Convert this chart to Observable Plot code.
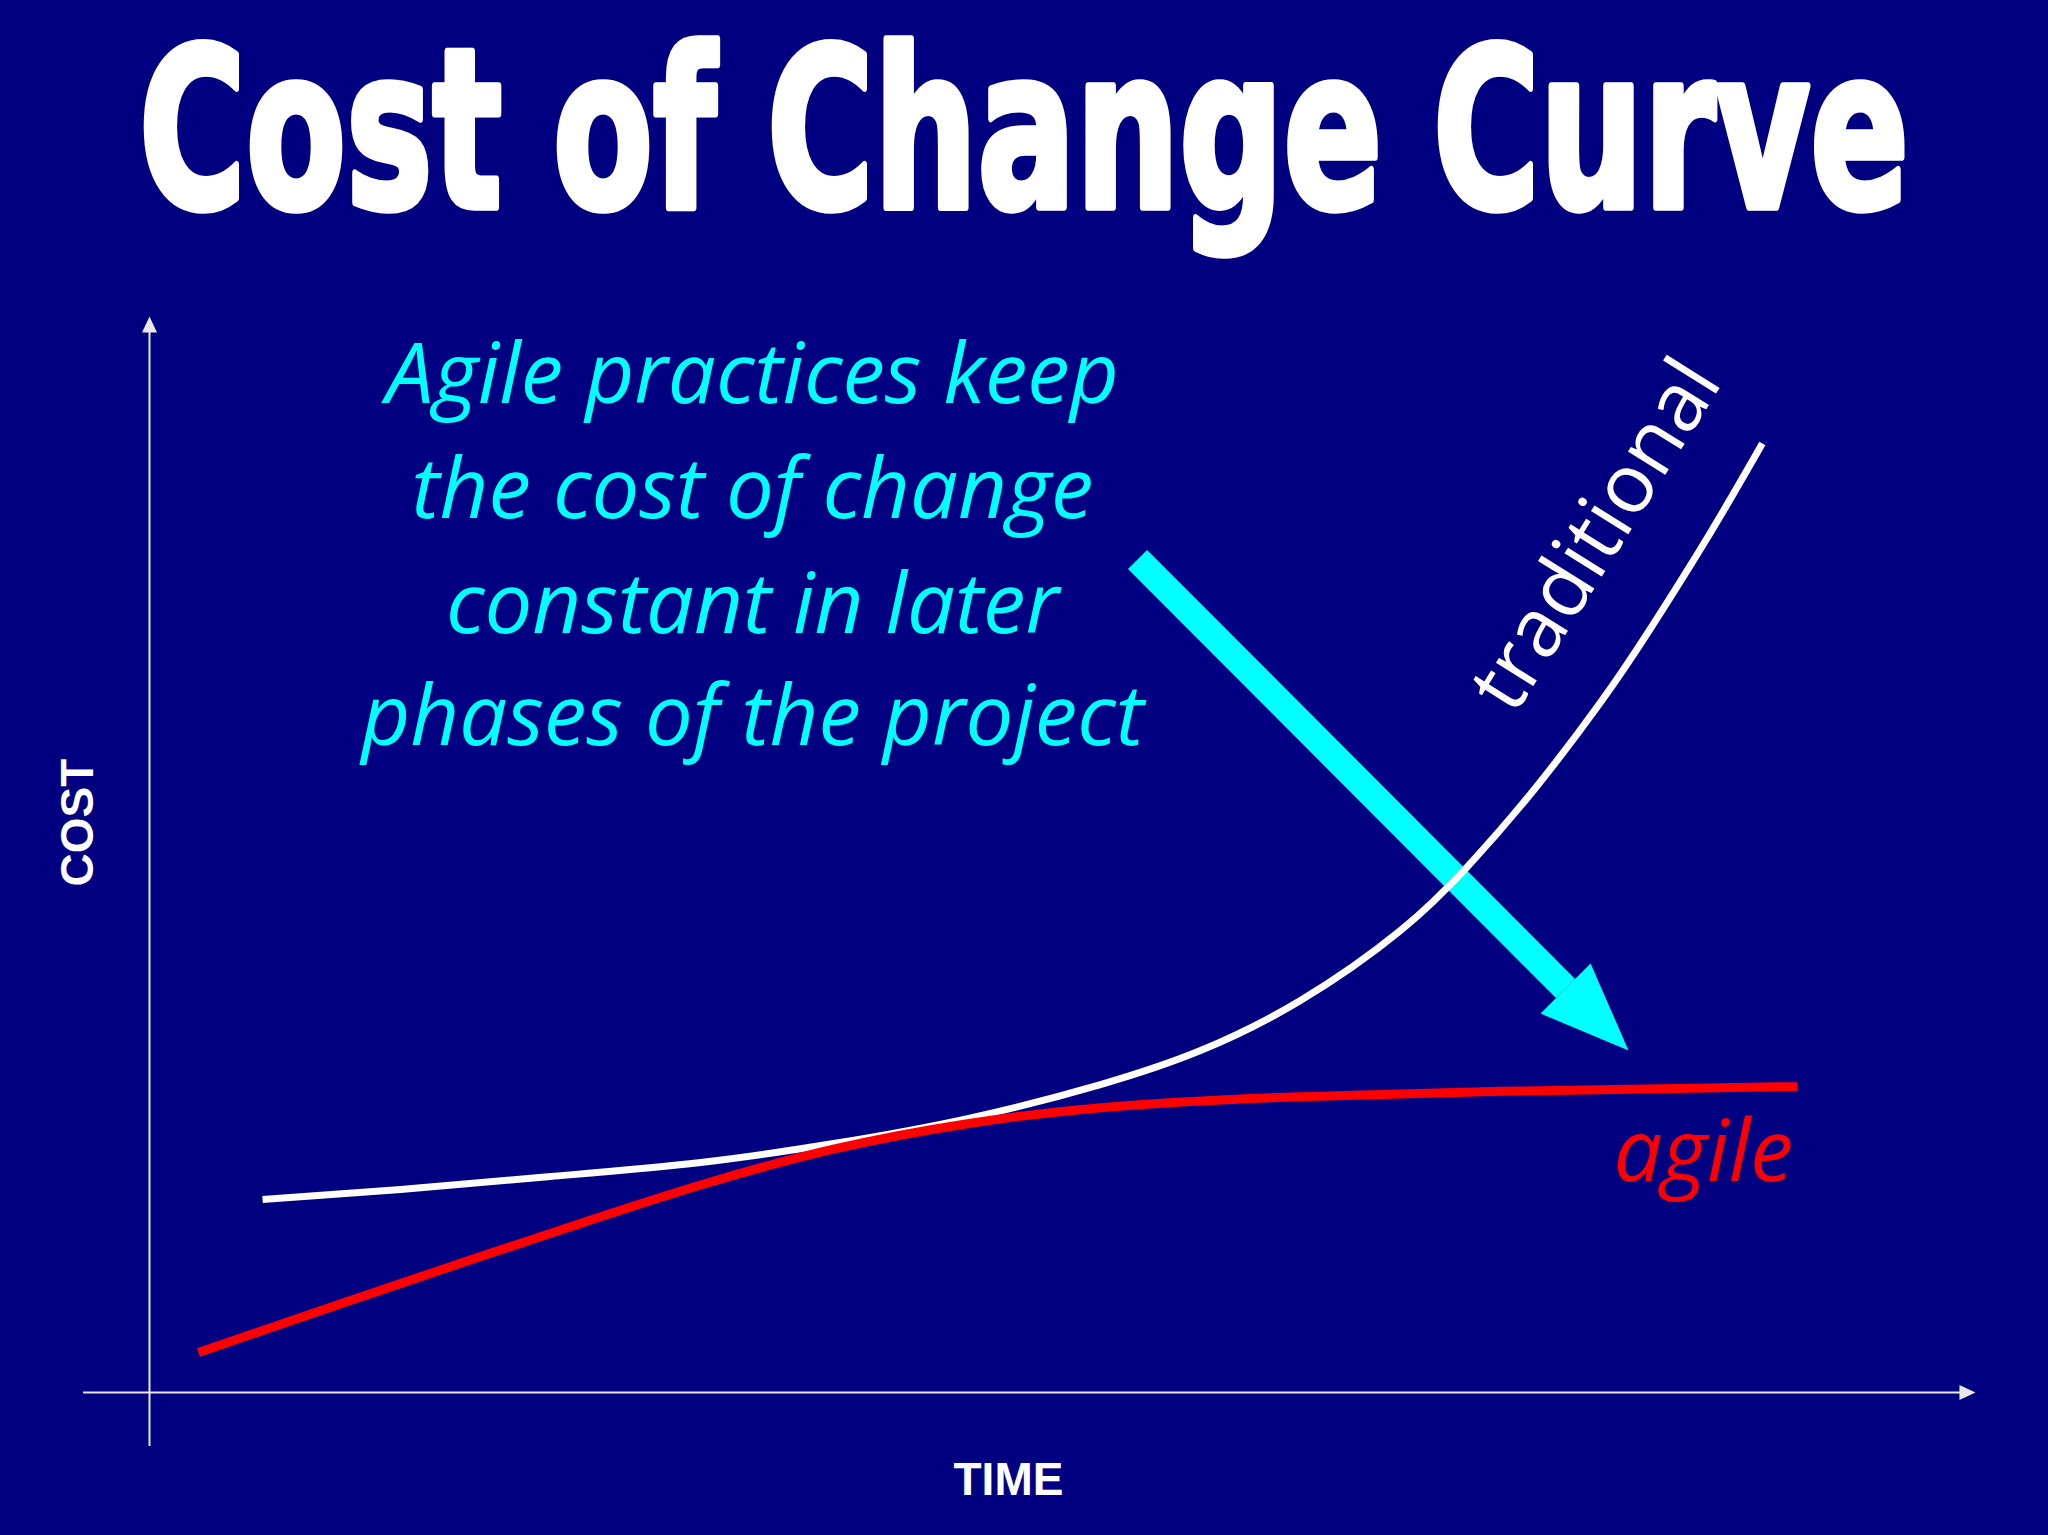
<!DOCTYPE html>
<html><head><meta charset="utf-8">
<script src="https://cdn.jsdelivr.net/npm/d3@7"></script>
<script src="https://cdn.jsdelivr.net/npm/@observablehq/plot@0.6"></script>
<style>
html,body{margin:0;padding:0;background:#000080;overflow:hidden;}
#title{display:block}
#chart svg{display:block}
</style></head>
<body>
<svg id="title" width="2048" height="300">
  <g id="titleGroup">
    <text id="titleText" x="1024" y="207" text-anchor="middle" font-family="DejaVu Sans" font-weight="bold"
          font-size="200" fill="#ffffff" stroke="#ffffff" stroke-width="5" stroke-linejoin="round">Cost of Change Curve</text>
  </g>
</svg>
<div id="chart"></div>
<script>
// ---- data (time 0..100 along x axis, cost 0..100 along y axis) ----
const timeTraditional = [6.19, 13.75, 21.96, 30.18, 37.46, 44.80, 52.08, 57.56, 63.03, 68.51, 72.18, 75.79, 79.46, 82.20, 85.49, 88.33];
const costTraditional = [17.94, 18.87, 20.07, 21.38, 23.14, 25.46, 28.62, 31.78, 36.43, 42.94, 48.88, 55.95, 64.13, 71.00, 79.93, 88.20];

const timeAgile = [2.68, 10.84, 18.13, 23.60, 30.18, 37.46, 44.80, 52.08, 58.65, 63.03, 73.99, 90.25];
const costAgile = [3.72, 8.46, 12.64, 15.71, 19.28, 22.61, 24.98, 26.47, 27.19, 27.49, 27.99, 28.44];

const seriesLabels = ["traditional", "agile"];
const labelTime = [79.24, 85.10];
const labelCost = [79.65, 19.70];

const noteLines = ["Agile practices keep", "the cost of change", "constant in later", "phases of the project"];
const noteTime = [33.02, 33.02, 33.02, 33.02];
const noteCost = [92.0, 81.23, 70.63, 60.22];

// trend arrow (tail, end of shaft, head triangle)
const arrowShaftTime = [54.11, 77.55];
const arrowShaftCost = [77.42, 37.55];
const arrowHeadTime = [78.92, 81.00, 76.18, 78.92];
const arrowHeadCost = [39.87, 31.78, 35.22, 39.87];

// axes
const xAxisExtent = [-3.61, 99.2];
const yAxisExtent = [-5.02, 98.6];
const xAxisHeadTime = [99.12, 100, 99.12, 99.12];
const xAxisHeadCost = [0.70, 0, -0.70, 0.70];
const yAxisHeadTime = [-0.41, 0, 0.41, -0.41];
const yAxisHeadCost = [98.51, 100, 98.51, 98.51];

const axisTitles = ["COST", "TIME"];
const axisTitleTime = [-3.07, 47.04];
const axisTitleCost = [52.97, -9.48];

// ---- title: fit width by font size, stretch height to reference cap height ----
(function () {
  const t = document.getElementById("titleText");
  const w200 = t.getComputedTextLength();
  const fs = 200 * 1770 / w200;
  t.setAttribute("font-size", fs.toFixed(2));
  const sy = 161 / (0.729 * fs);
  document.getElementById("titleGroup").setAttribute("transform",
    `translate(0,207) scale(1,${sy.toFixed(4)}) translate(0,-207)`);
})();

// ---- build tables ----
const pts = (ts, cs) => ts.map((t, i) => ({t, c: cs[i]}));
const traditional = pts(timeTraditional, costTraditional);
const agile = pts(timeAgile, costAgile);
const head = pts(arrowHeadTime, arrowHeadCost);
const xHead = pts(xAxisHeadTime, xAxisHeadCost);
const yHead = pts(yAxisHeadTime, yAxisHeadCost);
const notes = noteLines.map((s, i) => ({s, t: noteTime[i], c: noteCost[i]}));

const axisColor = "#e8e8e8";

const chart = Plot.plot({
  width: 2048,
  height: 1235,
  margin: 0,
  x: {domain: [0, 100], range: [149, 1975], axis: null},
  y: {domain: [0, 100], range: [1092, 16], axis: null},
  style: {background: "#000080", overflow: "visible"},
  marks: [
    // axes
    Plot.ruleY([0], {x1: xAxisExtent[0], x2: xAxisExtent[1], stroke: axisColor, strokeWidth: 2}),
    Plot.ruleX([0], {y1: yAxisExtent[0], y2: yAxisExtent[1], stroke: axisColor, strokeWidth: 2}),
    Plot.line(xHead, {x: "t", y: "c", fill: axisColor, stroke: "none"}),
    Plot.line(yHead, {x: "t", y: "c", fill: axisColor, stroke: "none"}),
    // trend arrow
    Plot.link([0], {x1: arrowShaftTime[0], y1: arrowShaftCost[0], x2: arrowShaftTime[1], y2: arrowShaftCost[1],
      stroke: "#00ffff", strokeWidth: 27, strokeLinecap: "butt"}),
    Plot.line(head, {x: "t", y: "c", fill: "#00ffff", stroke: "none"}),
    // curves
    Plot.line(traditional, {x: "t", y: "c", stroke: "#ffffff", strokeWidth: 7, curve: "natural", strokeLinecap: "butt"}),
    Plot.line(agile, {x: "t", y: "c", stroke: "#ff0000", strokeWidth: 9, curve: "natural", strokeLinecap: "butt"}),
    // note
    Plot.text(notes, {x: "t", y: "c", text: "s", fill: "#00ffff", fontFamily: "Open Sans", fontStyle: "italic",
      fontSize: 85, textAnchor: "middle", lineAnchor: "bottom"}),
    // series labels
    Plot.text([seriesLabels[0]], {x: labelTime[0], y: labelCost[0], text: d => d, fill: "#ffffff",
      fontFamily: "Open Sans", fontSize: 82, rotate: -58, textAnchor: "middle", lineAnchor: "middle"}),
    Plot.text([seriesLabels[1]], {x: labelTime[1], y: labelCost[1], text: d => d, fill: "#ff0000",
      fontFamily: "Open Sans", fontStyle: "italic", fontSize: 86, textAnchor: "middle", lineAnchor: "bottom"}),
    // axis titles
    Plot.text([axisTitles[0]], {x: axisTitleTime[0], y: axisTitleCost[0], text: d => d, fill: "#ffffff",
      fontFamily: "Liberation Sans", fontWeight: "bold", fontSize: 46, rotate: -90, textAnchor: "middle", lineAnchor: "bottom"}),
    Plot.text([axisTitles[1]], {x: axisTitleTime[1], y: axisTitleCost[1], text: d => d, fill: "#ffffff",
      fontFamily: "Liberation Sans", fontWeight: "bold", fontSize: 46, textAnchor: "middle", lineAnchor: "bottom"})
  ]
});
document.getElementById("chart").append(chart);
</script>
</body></html>
